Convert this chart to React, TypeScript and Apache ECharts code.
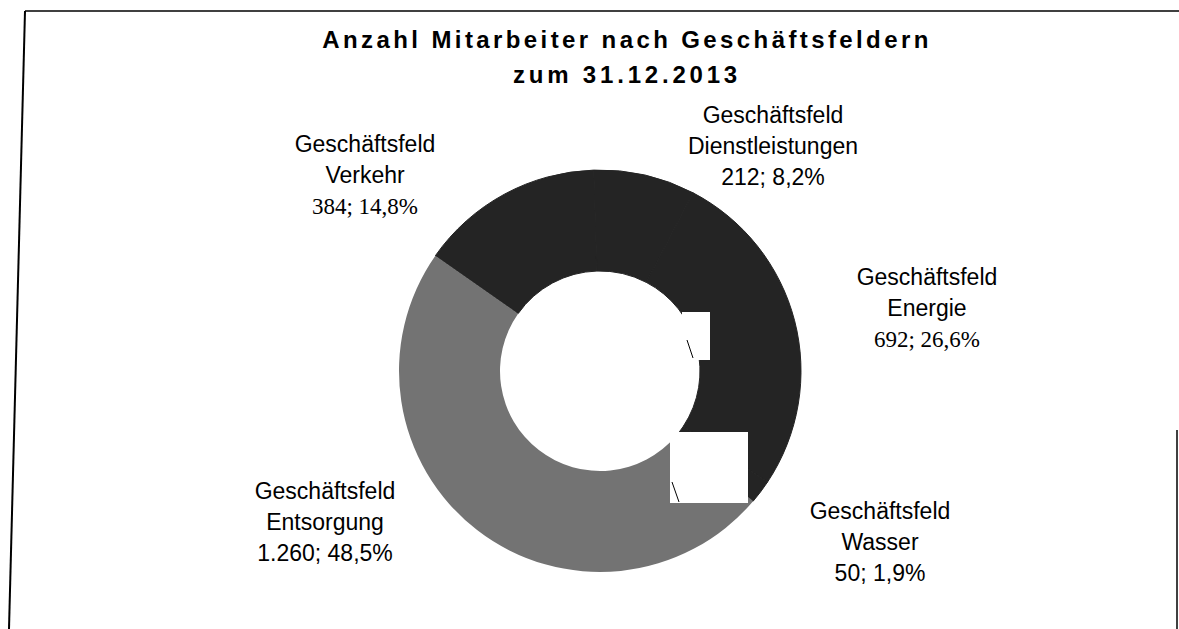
import React, { useEffect, useRef } from "react";
import * as echarts from "echarts";

const TITLE_LINES = ["Anzahl Mitarbeiter nach Geschäftsfeldern", "zum 31.12.2013"];
const CATEGORIES = [
  "Geschäftsfeld Verkehr",
  "Geschäftsfeld Dienstleistungen",
  "Geschäftsfeld Energie",
  "Geschäftsfeld Wasser",
  "Geschäftsfeld Entsorgung",
];
const VALUES = [384, 212, 692, 50, 1260];

// styling (not data)
const SLICE_COLORS = ["#242424", "#242424", "#242424", "#242424", "#737373"];
const SERIF_VALUE = [true, false, true, false, false];
const LABEL_POS: [number, number][] = [
  [365, 175],
  [773, 146],
  [927, 308],
  [880, 542],
  [325, 522],
];

function fmtNum(v: number): string {
  return v.toString().replace(/\B(?=(\d{3})+(?!\d))/g, ".");
}

export default function App() {
  const ref = useRef<HTMLDivElement>(null);
  useEffect(() => {
    if (!ref.current) return;
    const chart = echarts.init(ref.current, undefined, { renderer: "svg" });
    const option: any = {
      animation: false,
      backgroundColor: "#ffffff",
      graphic: [
        {
          type: "line",
          shape: { x1: 25, y1: 11, x2: 9, y2: 629 },
          style: { stroke: "#000", lineWidth: 2 },
        },
        {
          type: "line",
          shape: { x1: 25, y1: 11, x2: 1179, y2: 11 },
          style: { stroke: "#000", lineWidth: 1.5 },
        },
        {
          type: "line",
          shape: { x1: 1177, y1: 430, x2: 1177, y2: 629 },
          style: { stroke: "#000", lineWidth: 1.5 },
        },
        {
          type: "text",
          id: "t1",
          x: 627,
          y: 39.5,
          style: {
            text: TITLE_LINES[0],
            fill: "#000",
            font: 'bold 24px "Liberation Sans", Arial, sans-serif',
            textAlign: "center",
            textVerticalAlign: "middle",
          },
        },
        {
          type: "text",
          id: "t2",
          x: 627,
          y: 74.5,
          style: {
            text: TITLE_LINES[1],
            fill: "#000",
            font: 'bold 24px "Liberation Sans", Arial, sans-serif',
            textAlign: "center",
            textVerticalAlign: "middle",
          },
        },
        {
          type: "rect",
          z: 100,
          shape: { x: 682, y: 312, width: 28, height: 48 },
          style: { fill: "#fff" },
        },
        {
          type: "line",
          z: 101,
          shape: { x1: 687, y1: 340, x2: 693, y2: 358 },
          style: { stroke: "#000", lineWidth: 1 },
        },
        {
          type: "rect",
          z: 100,
          shape: { x: 670, y: 432, width: 78, height: 71 },
          style: { fill: "#fff" },
        },
        {
          type: "line",
          z: 101,
          shape: { x1: 672, y1: 482, x2: 679, y2: 502 },
          style: { stroke: "#000", lineWidth: 1 },
        },
      ],
      series: [
        {
          type: "pie",
          center: [600, 371],
          radius: [100, 201],
          startAngle: 145,
          clockwise: true,
          percentPrecision: 1,
          avoidLabelOverlap: false,
          emphasis: { disabled: true },
          labelLine: { show: false },
          label: {
            show: true,
            position: "outside",
            formatter: (p: any) => {
              const parts = String(p.name).split(" ");
              const valTxt = fmtNum(p.value) + "; " + String(p.percent.toFixed(1)).replace(".", ",") + "%";
              const vs = SERIF_VALUE[p.dataIndex] ? "vs" : "v";
              return `{n|${parts[0]}}\n{n|${parts.slice(1).join(" ")}}\n{${vs}|${valTxt}}`;
            },
            rich: {
              n: {
                fontFamily: '"Liberation Sans", Arial, sans-serif',
                fontSize: 23,
                lineHeight: 31,
                color: "#000",
                align: "center",
              },
              v: {
                fontFamily: '"Liberation Sans", Arial, sans-serif',
                fontSize: 23,
                lineHeight: 31,
                color: "#000",
                align: "center",
              },
              vs: {
                fontFamily: '"Liberation Serif", "Times New Roman", serif',
                fontSize: 23,
                lineHeight: 31,
                color: "#000",
                align: "center",
              },
            },
          },
          labelLayout: (params: any) => {
            const pos = LABEL_POS[params.dataIndex];
            return { x: pos[0], y: pos[1], align: "center", verticalAlign: "middle" };
          },
          data: CATEGORIES.map((c, i) => ({
            name: c,
            value: VALUES[i],
            itemStyle: {
              color: SLICE_COLORS[i],
              borderColor: SLICE_COLORS[i],
              borderWidth: i === 4 ? 0 : 1,
            },
          })),
        },
      ],
    };
    chart.setOption(option);
    const applySpacing = () => {
      const root = ref.current;
      if (!root) return;
      root.querySelectorAll("text").forEach((el) => {
        const t = el.textContent || "";
        if (t === TITLE_LINES[0]) el.setAttribute("letter-spacing", "3.4");
        else if (t === TITLE_LINES[1]) el.setAttribute("letter-spacing", "3.8");
      });
    };
    try {
      chart.getZr().flush();
    } catch (e) {}
    applySpacing();
    const raf = requestAnimationFrame(applySpacing);
    return () => {
      cancelAnimationFrame(raf);
      chart.dispose();
    };
  }, []);
  return (
    <div
      ref={ref}
      style={{ position: "fixed", left: 0, top: 0, width: 1179, height: 629, background: "#fff" }}
    />
  );
}
